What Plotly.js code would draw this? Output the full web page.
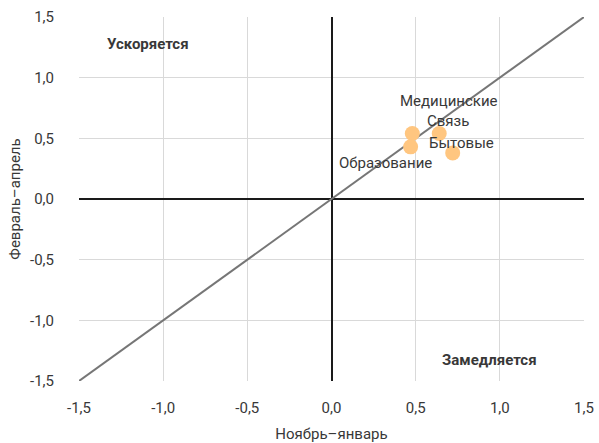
<!DOCTYPE html>
<html>
<head>
<meta charset="utf-8">
<script src="https://cdn.plot.ly/plotly-3.0.1.min.js"></script>
<style>html,body{margin:0;padding:0;background:#fff}#chart{width:599px;height:443px}</style>
</head>
<body>
<div id="chart"></div>
<script>
const categories = ["Медицинские", "Связь", "Образование", "Бытовые"];
const novJan = [0.48, 0.64, 0.47, 0.72];
const febApr = [0.54, 0.54, 0.43, 0.38];
const tickVals = [-1.5, -1.0, -0.5, 0.0, 0.5, 1.0, 1.5];
const tickText = ["-1,5", "-1,0", "-0,5", "0,0", "0,5", "1,0", "1,5"];
const diagX = [-1.5, 1.5];
const diagY = [-1.5, 1.5];
const quadrantLabels = ["Ускоряется", "Замедляется"];
const quadrantX = [-1.09, 0.94];
const quadrantY = [1.28, -1.33];

const labelShift = {
  "Медицинские": [37, 32],
  "Связь": [9, 12],
  "Образование": [-25, -16],
  "Бытовые": [9, 10]
};

const font = "Roboto, 'Open Sans', sans-serif";
const textColor = "#383838";
const fs = 15;

const traces = [
  {
    x: diagX, y: diagY, mode: "lines", type: "scatter",
    line: {color: "#767676", width: 2}, hoverinfo: "skip", showlegend: false
  },
  {
    x: novJan, y: febApr, mode: "markers", type: "scatter", text: categories,
    marker: {color: "#FFC680", size: 15, line: {width: 0}}, showlegend: false
  }
];

const annotations = categories.map((c, i) => ({
  x: novJan[i], y: febApr[i], xref: "x", yref: "y", text: c, showarrow: false,
  xshift: labelShift[c][0], yshift: labelShift[c][1],
  font: {family: font, size: fs, color: textColor}
})).concat(quadrantLabels.map((t, i) => ({
  x: quadrantX[i], y: quadrantY[i], xref: "x", yref: "y", text: "<b>" + t + "</b>",
  showarrow: false, font: {family: font, size: fs, color: textColor}
})));

const axisCommon = {
  range: [-1.5, 1.5], tickvals: tickVals, ticktext: tickText,
  showgrid: true, gridcolor: "#d9d9d9", gridwidth: 1,
  zeroline: true, zerolinecolor: "#1a1a1a", zerolinewidth: 2,
  showline: false, ticks: "",
  tickfont: {family: font, size: fs, color: textColor}, fixedrange: true
};

const layout = {
  width: 599, height: 443,
  margin: {l: 79, r: 15, t: 17, b: 62},
  paper_bgcolor: "#fff", plot_bgcolor: "#fff",
  font: {family: font, color: textColor},
  xaxis: Object.assign({}, axisCommon, {
    ticklabelstandoff: 16,
    title: {text: "Ноябрь–январь", font: {family: font, size: fs, color: textColor}, standoff: 14}
  }),
  yaxis: Object.assign({}, axisCommon, {
    ticklabelstandoff: 24,
    title: {text: "Февраль–апрель", font: {family: font, size: fs, color: textColor}, standoff: 5}
  }),
  annotations: annotations,
  showlegend: false
};

Plotly.newPlot("chart", traces, layout, {displayModeBar: false, staticPlot: true});
</script>
</body>
</html>
